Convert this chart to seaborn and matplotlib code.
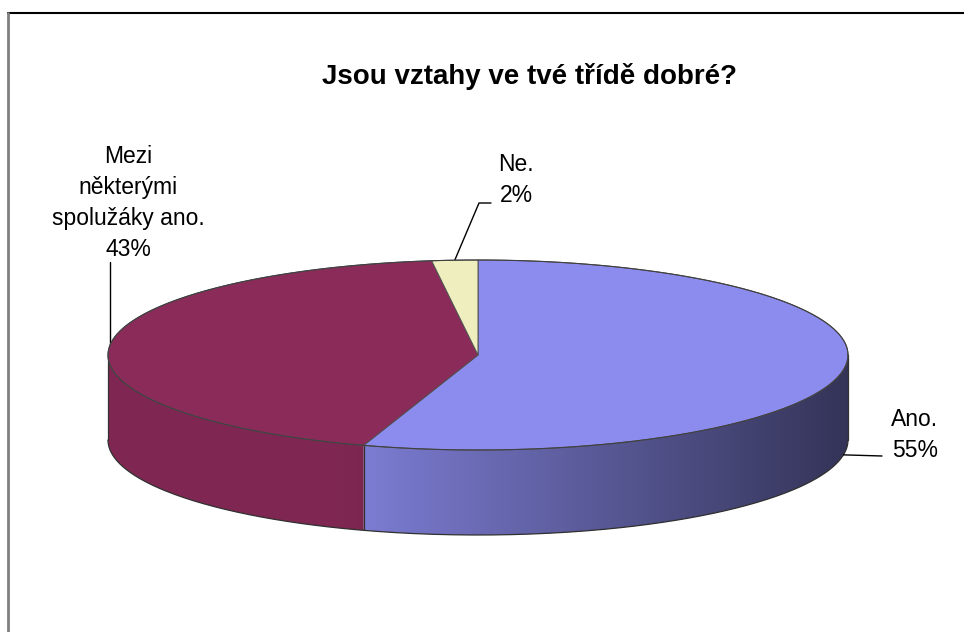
import numpy as np
import matplotlib
matplotlib.use("Agg")
import matplotlib.pyplot as plt
import seaborn as sns
from matplotlib.patches import Polygon

# data
categories = ["Ano.", "Mezi\nněkterými\nspolužáky ano.", "Ne."]
shares = [55, 43, 2]
title = "Jsou vztahy ve tvé třídě dobré?"

sns.set_style("white")
plt.rcParams['font.family'] = ['Liberation Sans', 'DejaVu Sans']
colors = sns.color_palette(["#8c8cee", "#8b2b5a", "#eeeebf"])

fig = plt.figure(figsize=(9.64, 6.32), dpi=100)
ax = fig.add_axes([0, 0, 1, 1])
ax.set_xlim(0, 964)
ax.set_ylim(632, 0)
ax.axis('off')

# pie geometry (pixel units)
cx, cy, rx, ry, depth = 478, 355, 370, 95, 85


def pt(t, dy=0.0):
    return cx + rx * np.cos(t), cy - ry * np.sin(t) + dy


def shade(x):
    u = (x - (cx - rx)) / (2 * rx)
    return 0.92 - 0.55 * np.clip(u - 0.3, 0, None) / 0.7


fracs = np.array(shares) / np.sum(shares)
starts = np.pi / 2 - 2 * np.pi * np.concatenate([[0], np.cumsum(fracs)[:-1]])
ends = starts - 2 * np.pi * fracs

# side walls (front half only), shaded with a horizontal gradient
gx = np.linspace(cx - rx, cx + rx, 400)
for t0, t1, c in zip(starts, ends, colors):
    ts = np.linspace(t0, t1, 400)
    ts = ts[np.sin(ts) <= 0]
    if len(ts) < 2:
        continue
    xs, ys = pt(ts)
    side = list(zip(xs, ys)) + list(zip(xs[::-1], ys[::-1] + depth))
    clip = Polygon(side, closed=True, facecolor="none", edgecolor="none")
    ax.add_patch(clip)
    img = np.array(c)[None, None, :] * shade(gx)[None, :, None]
    img = np.repeat(img, 2, axis=0).clip(0, 1)
    im = ax.imshow(img, extent=(cx - rx, cx + rx, cy + ry + depth + 5, cy - 5),
                   aspect="auto", interpolation="bilinear", zorder=1)
    im.set_clip_path(clip)
ax.set_xlim(0, 964)
ax.set_ylim(632, 0)

# side outlines
tb = np.linspace(np.pi, 2 * np.pi, 300)
bx, by = pt(tb, depth)
ax.plot(bx, by, color="#303030", lw=0.9, zorder=2)
for t in list(starts) + [np.pi, 2 * np.pi]:
    if np.sin(t) < 1e-6:
        x0, y0 = pt(t)
        ax.plot([x0, x0], [y0, y0 + depth], color="#303030", lw=0.9, zorder=2)

# top faces
for t0, t1, c in zip(starts, ends, colors):
    ts = np.linspace(t0, t1, 300)
    xs, ys = pt(ts)
    poly = [(cx, cy)] + list(zip(xs, ys))
    ax.add_patch(Polygon(poly, closed=True, facecolor=c, edgecolor="#505050",
                         lw=0.7, zorder=3))

# outer rim of top ellipse
tt = np.linspace(0, 2 * np.pi, 600)
ex, ey = pt(tt)
ax.plot(ex, ey, color="#404040", lw=0.8, zorder=4)

# labels and leader lines
mids = (starts + ends) / 2
fs = 16.5
ls = 1.45

# Ano.
ax_, ay_ = pt(mids[0], depth)
ax.plot([ax_, 882], [ay_, 456], color="black", lw=1)
ax.text(915, 435, f"{categories[0]}\n{shares[0]}%", ha="center", va="center",
        fontsize=fs, linespacing=ls, color="black")

# Mezi ...
mx, my = pt(mids[1])
ax.plot([mx, mx], [my, 262], color="black", lw=1)
ax.text(128, 203, f"{categories[1]}\n{shares[1]}%", ha="center", va="center",
        fontsize=fs, linespacing=ls, color="black")

# Ne.
nx, ny = pt(mids[2])
ax.plot([nx, 479, 491], [ny, 203, 203], color="black", lw=1)
ax.text(516, 180, f"{categories[2]}\n{shares[2]}%", ha="center", va="center",
        fontsize=fs, linespacing=ls, color="black")

ax.text(529, 77, title, ha="center", va="center", fontsize=20,
        fontweight="bold", color="black")

# chart frame
ax.plot([8, 964], [13, 13], color="black", lw=1.5)
ax.plot([8, 8], [13, 632], color="#808080", lw=2)

fig.savefig("out.png", dpi=100)
